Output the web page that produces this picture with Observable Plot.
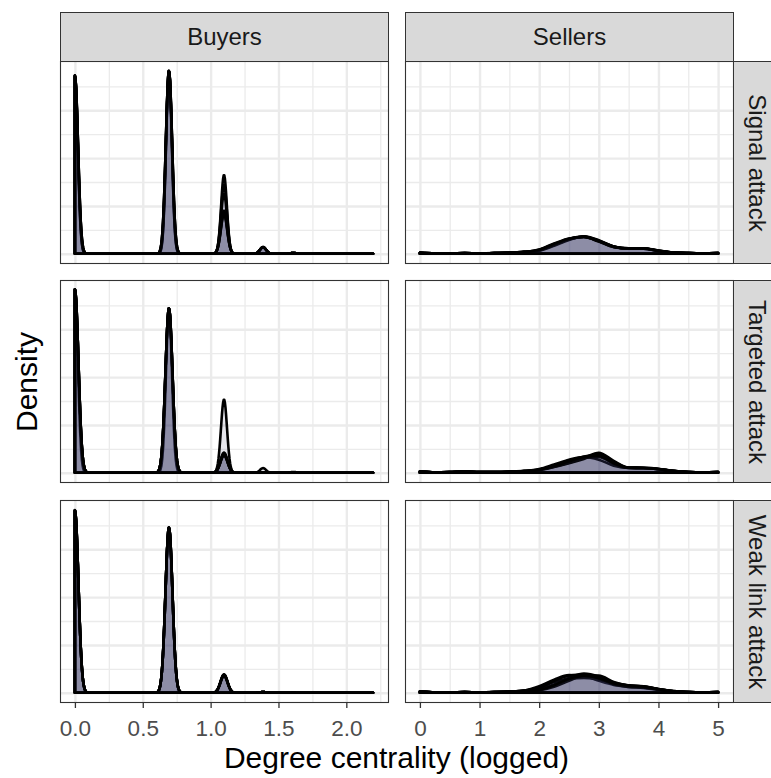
<!DOCTYPE html>
<html>
<head>
<meta charset="utf-8">
<script src="https://cdn.jsdelivr.net/npm/d3@7"></script>
<script src="https://cdn.jsdelivr.net/npm/@observablehq/plot@0.6"></script>
<style>
  body { margin: 0; background: #fff; font-family: "Liberation Sans", Arial, Helvetica, sans-serif; }
  #chart { position: relative; width: 771px; height: 778px; overflow: hidden; background: #fff; }
  .panel { position: absolute; }
  .strip { position: absolute; background: #d9d9d9; border: 1px solid #333; box-sizing: border-box;
           display: flex; align-items: center; justify-content: center; color: #1a1a1a; font-size: 24px; }
  .strip span { white-space: nowrap; line-height: 1; }
  .strip.right span { transform: rotate(90deg); }
  .ttl { position: absolute; color: #000; white-space: nowrap; line-height: 1; }
</style>
</head>
<body>
<div id="chart"></div>
<script>
// ---------------- data ----------------
const columns = ["Buyers", "Sellers"];
const attacks = ["Signal attack", "Targeted attack", "Weak link attack"];

// Buyers: share of buyers with each degree (one row per simulation run)
const buyerDegrees = [1, 2, 3, 4, 5, 6, 7, 8, 9];
const buyersSignal = [
  [0.398, 0.408, 0.176, 0.015, 0.002, 0.0005, 0.0003, 0.0002, 0.0001],
  [0.406, 0.417, 0.158, 0.015, 0.002, 0.0005, 0.0003, 0.0002, 0.0001],
  [0.415, 0.427, 0.140, 0.016, 0.002, 0.0005, 0.0003, 0.0002, 0.0001],
  [0.432, 0.444, 0.105, 0.016, 0.002, 0.0005, 0.0003, 0.0002, 0.0001],
  [0.435, 0.447, 0.099, 0.016, 0.002, 0.0005, 0.0003, 0.0002, 0.0001],
  [0.436, 0.448, 0.097, 0.016, 0.002, 0.0005, 0.0003, 0.0002, 0.0001]
];
const buyersSignalBw = [0.0213, 0.0218, 0.0223, 0.0232, 0.0233, 0.0234];

const buyersTargeted = [
  [0.430, 0.386, 0.172, 0.011, 0.002, 0.0005, 0.0002, 0.0001, 0.0001],
  [0.497, 0.446, 0.055, 0.001, 0.0005, 0.0002, 0.0001, 0.0001, 0.0001],
  [0.499, 0.448, 0.052, 0.001, 0.0005, 0.0002, 0.0001, 0.0001, 0.0001],
  [0.500, 0.448, 0.051, 0.001, 0.0005, 0.0002, 0.0001, 0.0001, 0.0001],
  [0.501, 0.449, 0.049, 0.001, 0.0005, 0.0002, 0.0001, 0.0001, 0.0001],
  [0.502, 0.450, 0.047, 0.001, 0.0005, 0.0002, 0.0001, 0.0001, 0.0001]
];
const buyersTargetedBw = [0.0224, 0.0259, 0.0260, 0.0260, 0.0261, 0.0261];

const buyersWeak = [
  [0.493, 0.446, 0.049, 0.002, 0.0005, 0.0002, 0.0001, 0.0001, 0.0001],
  [0.493, 0.446, 0.047, 0.002, 0.0005, 0.0002, 0.0001, 0.0001, 0.0001],
  [0.492, 0.447, 0.050, 0.002, 0.0005, 0.0002, 0.0001, 0.0001, 0.0001],
  [0.494, 0.447, 0.046, 0.002, 0.0005, 0.0002, 0.0001, 0.0001, 0.0001],
  [0.492, 0.445, 0.048, 0.002, 0.0005, 0.0002, 0.0001, 0.0001, 0.0001],
  [0.493, 0.447, 0.047, 0.002, 0.0005, 0.0002, 0.0001, 0.0001, 0.0001]
];
const buyersWeakBw = [0.0258, 0.0258, 0.0258, 0.0259, 0.0257, 0.0258];

// Sellers: density of logged degree read at these positions (one row per run)
const sellerGrid = [0, 0.25, 0.5, 0.75, 1, 1.25, 1.5, 1.75, 2, 2.25, 2.5, 2.75, 3, 3.25, 3.5, 3.75, 4, 4.25, 4.5, 4.75, 5];
const sellersSignal = [
  [0.04,0.02,0.02,0.03,0.02,0.03,0.04,0.07,0.14,0.36,0.60,0.72,0.55,0.30,0.22,0.22,0.13,0.06,0.03,0.02,0.03],
  [0.04,0.02,0.02,0.03,0.02,0.03,0.04,0.08,0.17,0.41,0.63,0.70,0.52,0.29,0.23,0.21,0.12,0.05,0.03,0.02,0.03],
  [0.04,0.02,0.02,0.02,0.02,0.03,0.04,0.07,0.13,0.34,0.58,0.73,0.57,0.31,0.22,0.23,0.14,0.06,0.03,0.02,0.03],
  [0.04,0.02,0.02,0.03,0.02,0.03,0.05,0.08,0.16,0.39,0.61,0.71,0.54,0.31,0.21,0.22,0.13,0.06,0.03,0.02,0.03],
  [0.04,0.02,0.02,0.03,0.02,0.03,0.04,0.07,0.15,0.38,0.62,0.72,0.53,0.30,0.22,0.21,0.13,0.05,0.03,0.02,0.03],
  [0.04,0.02,0.02,0.03,0.02,0.03,0.04,0.08,0.18,0.43,0.64,0.70,0.51,0.28,0.22,0.22,0.12,0.05,0.03,0.02,0.03]
];
const sellersTargeted = [
  [0.05,0.02,0.03,0.05,0.03,0.03,0.04,0.06,0.12,0.25,0.42,0.62,0.84,0.50,0.22,0.21,0.17,0.08,0.03,0.02,0.03],
  [0.05,0.02,0.03,0.05,0.03,0.03,0.04,0.07,0.14,0.30,0.50,0.68,0.74,0.42,0.21,0.20,0.16,0.07,0.03,0.02,0.03],
  [0.05,0.02,0.03,0.04,0.03,0.03,0.05,0.08,0.16,0.35,0.55,0.66,0.55,0.30,0.20,0.20,0.15,0.07,0.03,0.02,0.03],
  [0.05,0.02,0.03,0.05,0.03,0.03,0.04,0.07,0.12,0.26,0.45,0.62,0.66,0.38,0.20,0.19,0.15,0.07,0.03,0.02,0.03],
  [0.05,0.02,0.03,0.05,0.03,0.03,0.04,0.06,0.11,0.24,0.40,0.58,0.78,0.46,0.21,0.20,0.16,0.08,0.03,0.02,0.03],
  [0.05,0.02,0.03,0.05,0.03,0.03,0.04,0.07,0.13,0.28,0.48,0.66,0.70,0.40,0.21,0.20,0.15,0.07,0.03,0.02,0.03]
];
const sellersWeak = [
  [0.05,0.02,0.02,0.03,0.02,0.03,0.05,0.10,0.28,0.55,0.74,0.70,0.50,0.33,0.25,0.20,0.12,0.06,0.03,0.02,0.03],
  [0.05,0.02,0.02,0.03,0.02,0.03,0.04,0.07,0.15,0.35,0.62,0.80,0.68,0.40,0.28,0.25,0.15,0.06,0.03,0.02,0.03],
  [0.05,0.02,0.02,0.03,0.02,0.03,0.05,0.09,0.22,0.45,0.60,0.62,0.55,0.42,0.31,0.27,0.16,0.07,0.03,0.02,0.03],
  [0.05,0.02,0.02,0.03,0.02,0.03,0.04,0.06,0.10,0.25,0.50,0.72,0.72,0.45,0.30,0.26,0.16,0.07,0.03,0.02,0.03],
  [0.05,0.02,0.02,0.03,0.02,0.03,0.05,0.09,0.20,0.50,0.72,0.76,0.60,0.36,0.25,0.22,0.13,0.06,0.03,0.02,0.03],
  [0.05,0.02,0.02,0.03,0.02,0.03,0.04,0.07,0.12,0.32,0.58,0.70,0.62,0.40,0.30,0.26,0.15,0.06,0.03,0.02,0.03]
];

// axis ticks
const buyerTicks = [0, 0.5, 1, 1.5, 2];
const buyerMinor = [0.25, 0.75, 1.25, 1.75, 2.25];
const sellerTicks = [0, 1, 2, 3, 4, 5];
const sellerMinor = [0.5, 1.5, 2.5, 3.5, 4.5];
const densityMajor = [0, 2, 4, 6];
const densityMinor = [1, 3, 5, 7];

// ---------------- stat: kernel density for buyers ----------------
function kde(shares, bw) {
  const pts = buyerDegrees.map(Math.log);
  const xmax = d3.max(pts);
  const n = 512;
  return d3.range(n).map(i => {
    const x = xmax * i / (n - 1);
    let y = 0;
    pts.forEach((p, j) => {
      const u = (x - p) / bw;
      y += shares[j] * Math.exp(-0.5 * u * u) / (bw * Math.sqrt(2 * Math.PI));
    });
    return {x, y};
  });
}
function buyerRows(runs, bws) {
  return runs.flatMap((s, r) => kde(s, bws[r]).map(d => ({...d, run: r})));
}
function sellerRows(runs) {
  return runs.flatMap((vals, r) => vals.map((y, i) => ({x: sellerGrid[i], y, run: r})));
}

const panels = {
  "Buyers|Signal attack": buyerRows(buyersSignal, buyersSignalBw),
  "Buyers|Targeted attack": buyerRows(buyersTargeted, buyersTargetedBw),
  "Buyers|Weak link attack": buyerRows(buyersWeak, buyersWeakBw),
  "Sellers|Signal attack": sellerRows(sellersSignal),
  "Sellers|Targeted attack": sellerRows(sellersTargeted),
  "Sellers|Weak link attack": sellerRows(sellersWeak)
};

const yMax = d3.max(Object.values(panels).flat(), d => d.y);
const yDomain = [-0.05 * yMax, 1.05 * yMax];
const bMax = Math.log(d3.max(buyerDegrees));
const sMax = d3.max(sellerGrid);

const colSpec = {
  Buyers: {domain: [-0.05 * bMax, 1.05 * bMax], major: buyerTicks, minor: buyerMinor, fmt: d3.format(".1f"), curve: "linear"},
  Sellers: {domain: [-0.05 * sMax, 1.05 * sMax], major: sellerTicks, minor: sellerMinor, fmt: d3.format("d"), curve: "monotone-x"}
};

// ---------------- layout ----------------
const colLeft = [60, 405];
const rowTop = [61, 280, 500];
const panelW = 328, panelH = 202, axisH = 42;
const chart = document.getElementById("chart");

columns.forEach((col, ci) => {
  const spec = colSpec[col];
  attacks.forEach((att, ri) => {
    const bottom = ri === attacks.length - 1;
    const plot = Plot.plot({
      width: panelW,
      height: panelH + (bottom ? axisH : 0),
      marginTop: 0, marginRight: 0, marginLeft: 0,
      marginBottom: bottom ? axisH : 0,
      style: {overflow: "visible", background: "transparent", fontFamily: "Liberation Sans, Arial, sans-serif", color: "#4d4d4d"},
      x: {domain: spec.domain, axis: bottom ? undefined : null},
      y: {domain: yDomain, axis: null},
      marks: [
        Plot.ruleX(spec.minor, {stroke: "#ebebeb", strokeWidth: 1.3}),
        Plot.ruleY(densityMinor, {stroke: "#ebebeb", strokeWidth: 1.3}),
        Plot.ruleX(spec.major, {stroke: "#ebebeb", strokeWidth: 2.4}),
        Plot.ruleY(densityMajor, {stroke: "#ebebeb", strokeWidth: 2.4}),
        Plot.areaY(panels[col + "|" + att], {
          x: "x", y1: 0, y2: "y", z: "run", curve: spec.curve,
          fill: "#333366", fillOpacity: 0.13,
          stroke: "black", strokeWidth: 2.6, strokeLinejoin: "round"
        }),
        Plot.frame({stroke: "#333333", strokeWidth: 1.1}),
        bottom ? Plot.axisX(spec.major, {
          tickFormat: spec.fmt, tickSize: 6, tickPadding: 12, fontSize: 22.5,
          stroke: "#333333", fill: "#4d4d4d", strokeWidth: 1.3, label: null
        }) : null
      ]
    });
    const div = document.createElement("div");
    div.className = "panel";
    div.style.left = colLeft[ci] + "px";
    div.style.top = rowTop[ri] + "px";
    div.style.width = panelW + "px";
    div.appendChild(plot);
    chart.appendChild(div);
  });
  // top strip
  const s = document.createElement("div");
  s.className = "strip";
  s.style.left = colLeft[ci] + "px";
  s.style.top = "12px";
  s.style.width = (panelW + 1) + "px";
  s.style.height = (rowTop[0] - 12 + 1) + "px";
  s.innerHTML = "<span></span>";
  s.firstChild.textContent = col;
  chart.appendChild(s);
});

attacks.forEach((att, ri) => {
  const s = document.createElement("div");
  s.className = "strip right";
  s.style.left = (colLeft[1] + panelW) + "px";
  s.style.top = rowTop[ri] + "px";
  s.style.width = "48px";
  s.style.height = (panelH + 1) + "px";
  s.innerHTML = "<span></span>";
  s.firstChild.textContent = att;
  chart.appendChild(s);
});

// axis titles
const xt = document.createElement("div");
xt.className = "ttl";
xt.textContent = "Degree centrality (logged)";
xt.style.fontSize = "30px";
xt.style.left = ((colLeft[0] + colLeft[1] + panelW) / 2) + "px";
xt.style.top = "743px";
xt.style.transform = "translateX(-50%)";
chart.appendChild(xt);

const yt = document.createElement("div");
yt.className = "ttl";
yt.textContent = "Density";
yt.style.fontSize = "30px";
yt.style.left = "27px";
yt.style.top = ((rowTop[0] + rowTop[2] + panelH) / 2) + "px";
yt.style.transform = "translate(-50%, -50%) rotate(-90deg)";
chart.appendChild(yt);
</script>
</body>
</html>
